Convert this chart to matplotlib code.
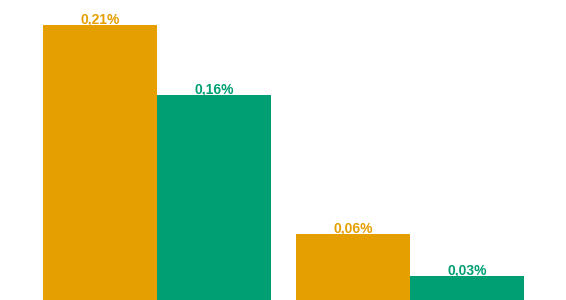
import numpy as np
import matplotlib.pyplot as plt

# Data
groups = ["A", "B"]
series_a = [0.21, 0.06]
series_b = [0.16, 0.03]
labels_a = ["0,21%", "0,06%"]
labels_b = ["0,16%", "0,03%"]

orange = "#E69F00"
green = "#009E73"

fig = plt.figure(figsize=(5.66, 3.0), dpi=100)
# axes baseline sits a bit below the bottom edge of the figure
ax = fig.add_axes([0, -17.6 / 300, 1, 317.6 / 300])

x = np.arange(len(groups))
w = 0.45
bars_a = ax.bar(x - w / 2, series_a, width=w, color=orange)
bars_b = ax.bar(x + w / 2, series_b, width=w, color=green)

for bars, labels, col in [(bars_a, labels_a, orange), (bars_b, labels_b, green)]:
    for b, lab in zip(bars, labels):
        ax.annotate(lab, (b.get_x() + b.get_width() / 2, b.get_height()),
                    xytext=(0, 1.1), textcoords="offset points",
                    ha="center", va="baseline", color=col,
                    fontsize=10, fontweight="bold", family="Liberation Sans")

ax.set_xlim(-157 / 253, 409 / 253)
ax.set_ylim(0, 317.6 / 1393)
ax.axis("off")

plt.savefig("out.png", dpi=100)
plt.close()
